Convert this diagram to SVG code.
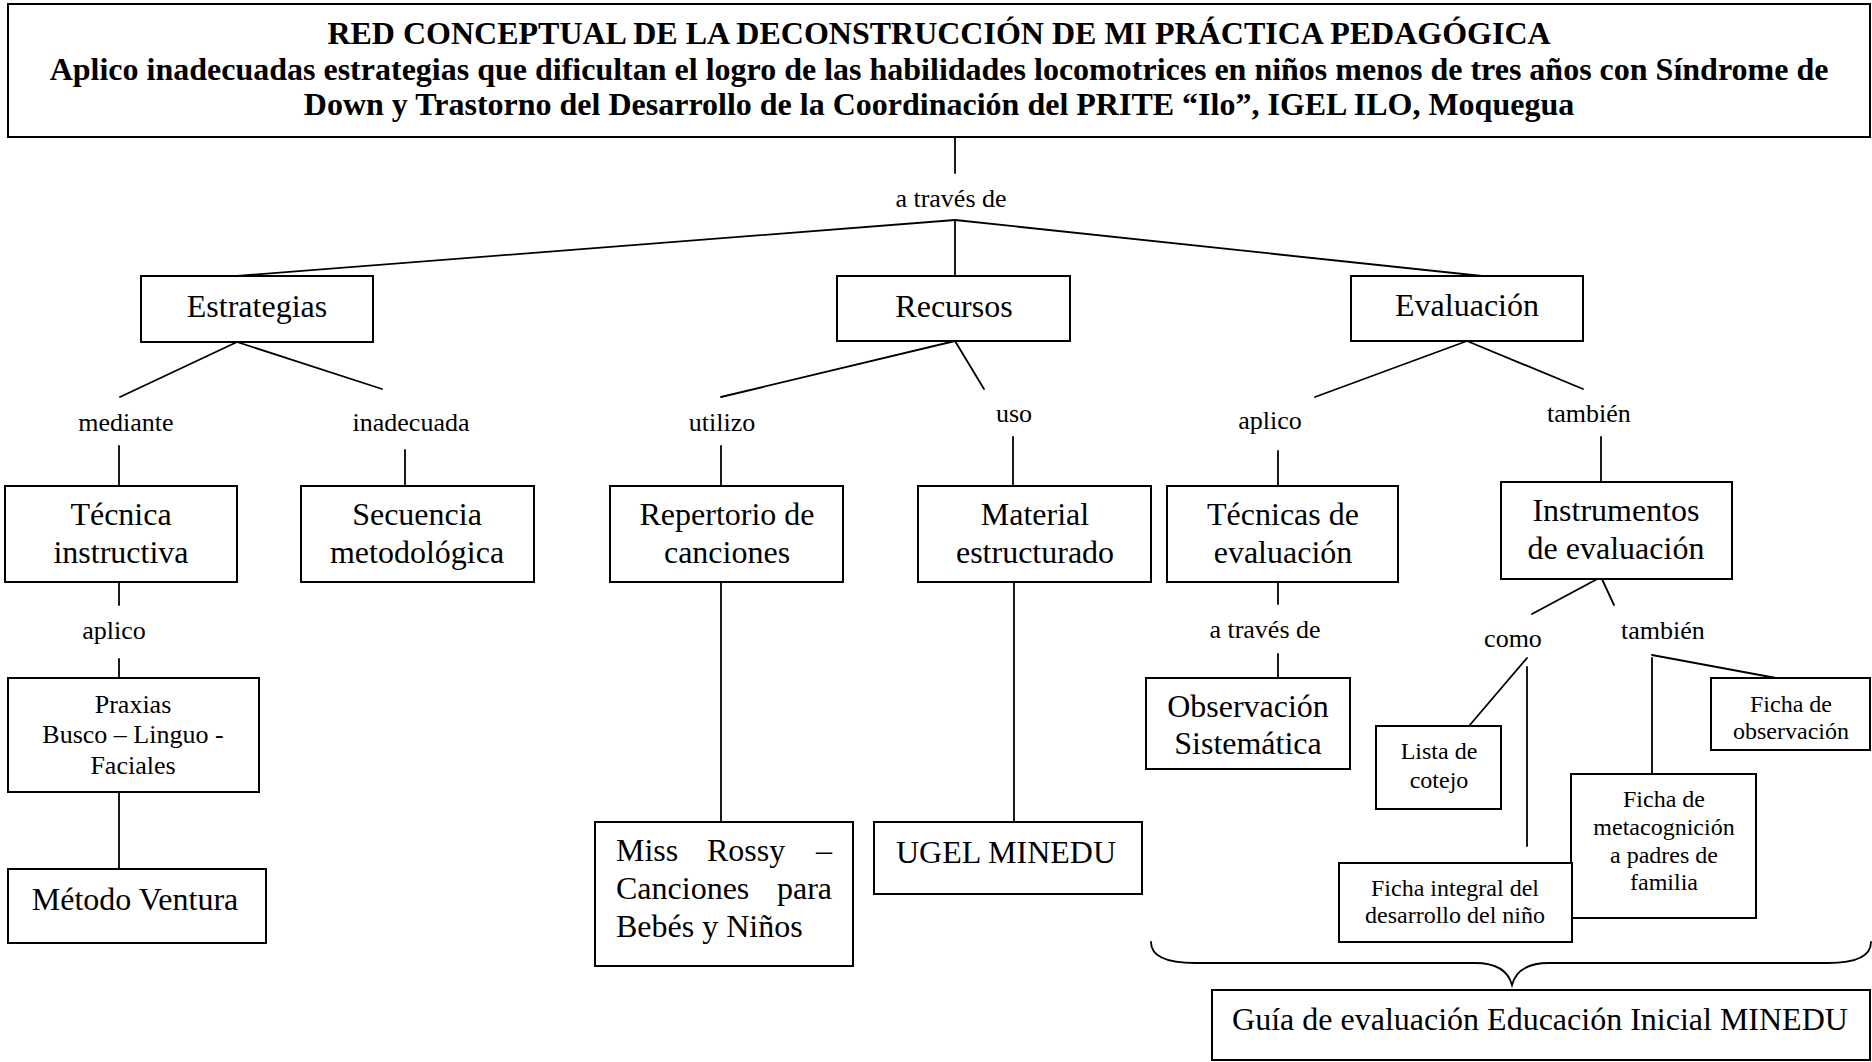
<svg xmlns="http://www.w3.org/2000/svg" width="1872" height="1062" viewBox="0 0 1872 1062">
<style>
text{font-family:"Liberation Serif","Times New Roman",serif;fill:#000;text-anchor:middle}
.box{fill:#fff;stroke:#000;stroke-width:2}
.ln{stroke:#000;stroke-width:1.8;fill:none;stroke-linecap:round}
.ttl{font-size:32px;font-weight:bold}
.t32{font-size:32px}
.t26{font-size:26px}
.t24{font-size:24px}
.st{text-anchor:start}
.en{text-anchor:end}
</style>
<rect width="1872" height="1062" fill="#fff"/>
<g id="connectors">
<line class="ln" x1="955" y1="137" x2="955" y2="173"/>
<line class="ln" x1="955" y1="220" x2="237" y2="276"/>
<line class="ln" x1="955" y1="220" x2="955" y2="276"/>
<line class="ln" x1="955" y1="220" x2="1482" y2="276"/>
<line class="ln" x1="237" y1="342" x2="120" y2="397"/>
<line class="ln" x1="237" y1="342" x2="382" y2="389"/>
<line class="ln" x1="119" y1="446" x2="119" y2="486"/>
<line class="ln" x1="405" y1="450" x2="405" y2="486"/>
<line class="ln" x1="955" y1="341" x2="721" y2="397"/>
<line class="ln" x1="955" y1="341" x2="984" y2="389"/>
<line class="ln" x1="721" y1="446" x2="721" y2="486"/>
<line class="ln" x1="1013" y1="437" x2="1013" y2="486"/>
<line class="ln" x1="1467" y1="341" x2="1315" y2="397"/>
<line class="ln" x1="1467" y1="341" x2="1583" y2="389"/>
<line class="ln" x1="1278" y1="451" x2="1278" y2="486"/>
<line class="ln" x1="1601" y1="437" x2="1601" y2="482"/>
<line class="ln" x1="119" y1="582" x2="119" y2="605"/>
<line class="ln" x1="119" y1="659" x2="119" y2="678"/>
<line class="ln" x1="119" y1="792" x2="119" y2="869"/>
<line class="ln" x1="721" y1="582" x2="721" y2="822"/>
<line class="ln" x1="1014" y1="582" x2="1014" y2="822"/>
<line class="ln" x1="1278" y1="582" x2="1278" y2="604"/>
<line class="ln" x1="1278" y1="654" x2="1278" y2="678"/>
<line class="ln" x1="1601" y1="577" x2="1532" y2="614"/>
<line class="ln" x1="1601" y1="577" x2="1614" y2="605"/>
<line class="ln" x1="1527" y1="658" x2="1469" y2="726"/>
<line class="ln" x1="1527" y1="667" x2="1527" y2="846"/>
<line class="ln" x1="1652" y1="658" x2="1652" y2="774"/>
<line class="ln" x1="1652" y1="655" x2="1776" y2="678"/>
<path class="ln" stroke-width="2.2" d="M1151,942 C1151,955 1165,963 1195,963 L1475,963 C1495,963 1508,970 1512,985 C1516,970 1529,963 1549,963 L1828,963 C1858,963 1871,955 1871,942"/>
</g>
<g id="labels">
<text class="t26" x="951" y="207">a través de</text>
<text class="t26" x="126" y="431">mediante</text>
<text class="t26" x="411" y="431">inadecuada</text>
<text class="t26" x="722" y="431">utilizo</text>
<text class="t26" x="1014" y="422">uso</text>
<text class="t26" x="1270" y="429">aplico</text>
<text class="t26" x="1589" y="422">también</text>
<text class="t26" x="114" y="639">aplico</text>
<text class="t26" x="1265" y="638">a través de</text>
<text class="t26" x="1513" y="647">como</text>
<text class="t26" x="1663" y="639">también</text>
</g>
<g id="title">
<rect class="box" x="8" y="4" width="1862" height="133"/>
<text class="ttl" x="939" y="44">RED CONCEPTUAL DE LA DECONSTRUCCIÓN DE MI PRÁCTICA PEDAGÓGICA</text>
<text class="ttl" x="939" y="80">Aplico inadecuadas estrategias que dificultan el logro de las habilidades locomotrices en niños menos de tres años con Síndrome de</text>
<text class="ttl" x="939" y="115">Down y Trastorno del Desarrollo de la Coordinación del PRITE “Ilo”, IGEL ILO, Moquegua</text>
</g>
<g id="estrategias">
<rect class="box" x="141" y="276" width="232" height="66"/>
<text class="t32" x="257" y="317">Estrategias</text>
</g>
<g id="recursos">
<rect class="box" x="837" y="276" width="233" height="65"/>
<text class="t32" x="954" y="317">Recursos</text>
</g>
<g id="evaluacion">
<rect class="box" x="1351" y="276" width="232" height="65"/>
<text class="t32" x="1467" y="316">Evaluación</text>
</g>
<g id="tecnica-instructiva">
<rect class="box" x="5" y="486" width="232" height="96"/>
<text class="t32" x="121" y="525">Técnica</text>
<text class="t32" x="121" y="563">instructiva</text>
</g>
<g id="secuencia">
<rect class="box" x="301" y="486" width="233" height="96"/>
<text class="t32" x="417" y="525">Secuencia</text>
<text class="t32" x="417" y="563">metodológica</text>
</g>
<g id="repertorio">
<rect class="box" x="610" y="486" width="233" height="96"/>
<text class="t32" x="727" y="525">Repertorio de</text>
<text class="t32" x="727" y="563">canciones</text>
</g>
<g id="material">
<rect class="box" x="918" y="486" width="233" height="96"/>
<text class="t32" x="1035" y="525">Material</text>
<text class="t32" x="1035" y="563">estructurado</text>
</g>
<g id="tecnicas-evaluacion">
<rect class="box" x="1167" y="486" width="231" height="96"/>
<text class="t32" x="1283" y="525">Técnicas de</text>
<text class="t32" x="1283" y="563">evaluación</text>
</g>
<g id="instrumentos">
<rect class="box" x="1501" y="482" width="231" height="97"/>
<text class="t32" x="1616" y="521">Instrumentos</text>
<text class="t32" x="1616" y="559">de evaluación</text>
</g>
<g id="praxias">
<rect class="box" x="8" y="678" width="251" height="114"/>
<text class="t26" x="133" y="713">Praxias</text>
<text class="t26" x="133" y="743">Busco – Linguo -</text>
<text class="t26" x="133" y="774">Faciales</text>
</g>
<g id="metodo-ventura">
<rect class="box" x="8" y="869" width="258" height="74"/>
<text class="t32" x="135" y="910">Método Ventura</text>
</g>
<g id="miss-rossy">
<rect class="box" x="595" y="822" width="258" height="144"/>
<text class="t32 st" x="616" y="861">Miss</text>
<text class="t32 st" x="707" y="861">Rossy</text>
<text class="t32 en" x="832" y="861">–</text>
<text class="t32 st" x="616" y="899">Canciones</text>
<text class="t32 en" x="832" y="899">para</text>
<text class="t32 st" x="616" y="937">Bebés y Niños</text>
</g>
<g id="ugel-minedu">
<rect class="box" x="874" y="822" width="268" height="72"/>
<text class="t32" x="1006" y="863">UGEL MINEDU</text>
</g>
<g id="observacion">
<rect class="box" x="1146" y="678" width="204" height="91"/>
<text class="t32" x="1248" y="717">Observación</text>
<text class="t32" x="1248" y="754">Sistemática</text>
</g>
<g id="lista-cotejo">
<rect class="box" x="1376" y="726" width="125" height="83"/>
<text class="t24" x="1439" y="759">Lista de</text>
<text class="t24" x="1439" y="788">cotejo</text>
</g>
<g id="ficha-observacion">
<rect class="box" x="1711" y="678" width="159" height="72"/>
<text class="t24" x="1791" y="712">Ficha de</text>
<text class="t24" x="1791" y="739">observación</text>
</g>
<g id="ficha-metacognicion">
<rect class="box" x="1571" y="774" width="185" height="144"/>
<text class="t24" x="1664" y="807">Ficha de</text>
<text class="t24" x="1664" y="835">metacognición</text>
<text class="t24" x="1664" y="863">a padres de</text>
<text class="t24" x="1664" y="890">familia</text>
</g>
<g id="ficha-integral">
<rect class="box" x="1339" y="863" width="233" height="79"/>
<text class="t24" x="1455" y="896">Ficha integral del</text>
<text class="t24" x="1455" y="923">desarrollo del niño</text>
</g>
<g id="guia">
<rect class="box" x="1212" y="990" width="658" height="70"/>
<text class="t32" x="1540" y="1030">Guía de evaluación Educación Inicial MINEDU</text>
</g>
</svg>
